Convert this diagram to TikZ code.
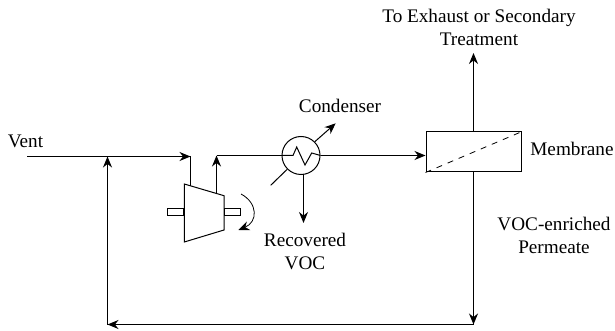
\documentclass[tikz,border=0pt]{standalone}
\usepackage{fontspec}
\setmainfont{Liberation Serif}
\usetikzlibrary{arrows.meta,positioning,calc}
\begin{document}
\begin{tikzpicture}[
    x=0.5pt, y=-0.5pt,
    >=Stealth,
    flowline/.style={line width=0.5pt, draw=black},
    flowarrow/.style={flowline, -{Stealth[length=5.5pt, width=4.5pt]}},
    unitbox/.style={rectangle, draw=black, line width=0.5pt, inner sep=0pt},
    label/.style={font=\fontsize{9.6pt}{11.5pt}\selectfont, align=center, text=black, inner sep=0pt}
]

\useasboundingbox (0,0) rectangle (615,331);

% ==================== UNITS ====================
\node[unitbox, minimum width=47.8pt, minimum height=20pt] (membrane) at (473.8,152) {};
\draw[dashed, line width=0.4pt] (membrane.south west) -- (membrane.north east);

\node[circle, draw=black, line width=0.5pt, inner sep=0pt, minimum size=19pt] (cond) at (301,155.5) {};
\draw[line width=0.5pt] (cond.west) -- (293,155.5) -- (296.7,147) -- (305,165) -- (311.7,153) -- (cond.east);

\draw[line width=0.5pt] (184.3,184) coordinate (compTL) -- (224,195.7) coordinate (compTR)
    -- (224,230) coordinate (compBR) -- (184.3,242) coordinate (compBL) -- cycle;
\node[unitbox, minimum width=8pt, minimum height=3.2pt, anchor=east] (shaftL) at (184.3,212) {};
\node[unitbox, minimum width=8pt, minimum height=3.2pt, anchor=west] (shaftR) at (224,212) {};

% ==================== JUNCTIONS ====================
\coordinate (ventstart) at (27,156.5);
\coordinate (mix) at (107.5,156.5);
\coordinate (compin) at (190.5,156.5);
\coordinate (compinb) at (190.5,185.7);
\coordinate (compout) at (216.5,155.5);
\coordinate (compoutb) at (216.5,193.5);
\coordinate (coolin) at (270.7,185.3);
\coordinate (coolout) at (335.7,123.3);
\coordinate (vocstart) at (303.5,174);
\coordinate (voc) at (303.5,223);
\coordinate (exhaust) at (473.5,53);
\coordinate (retcorner) at (473.5,324.5);
\coordinate (retend) at (107.5,324.5);

% ==================== CONNECTORS ====================
\draw[flowarrow] (ventstart) -- (compin);
\draw[flowline] (compin) -- (compinb);
\draw[flowarrow] (compoutb) -- (compout);
\draw[flowline] (compout) -- (cond.west);
\draw[flowarrow] (cond.east) -- (membrane.west |- cond.east);
\draw[flowarrow] (vocstart) -- (voc);
\draw[flowline] (coolin) -- (cond.south west);
\draw[flowarrow] (cond.north east) -- (coolout);
\draw[flowarrow] (exhaust |- membrane.north) -- (exhaust);
\draw[flowarrow] (exhaust |- membrane.south) -- (retcorner);
\draw[flowarrow] (retcorner) -- (retend);
\draw[flowarrow] (retend) -- (mix);
\draw[line width=0.4pt, -{Stealth[length=5.5pt, width=4.5pt]}] (241,194) .. controls (258,203) and (258,222) .. (238.3,230);

% ==================== LABELS ====================
\node[label] (vent) at (25.5,141) {Vent};
\node[label] (condlabel) at (340,106) {Condenser};
\node[label] (voclabel) at (305,251) {Recovered\\VOC};
\node[label, anchor=west] (memlabel) at (530,149) {Membrane};
\node[label] (permlabel) at (554,235) {VOC-enriched\\Permeate};
\node[label] (exhaustlabel) at (479,27) {To Exhaust or Secondary\\Treatment};

\end{tikzpicture}
\end{document}
